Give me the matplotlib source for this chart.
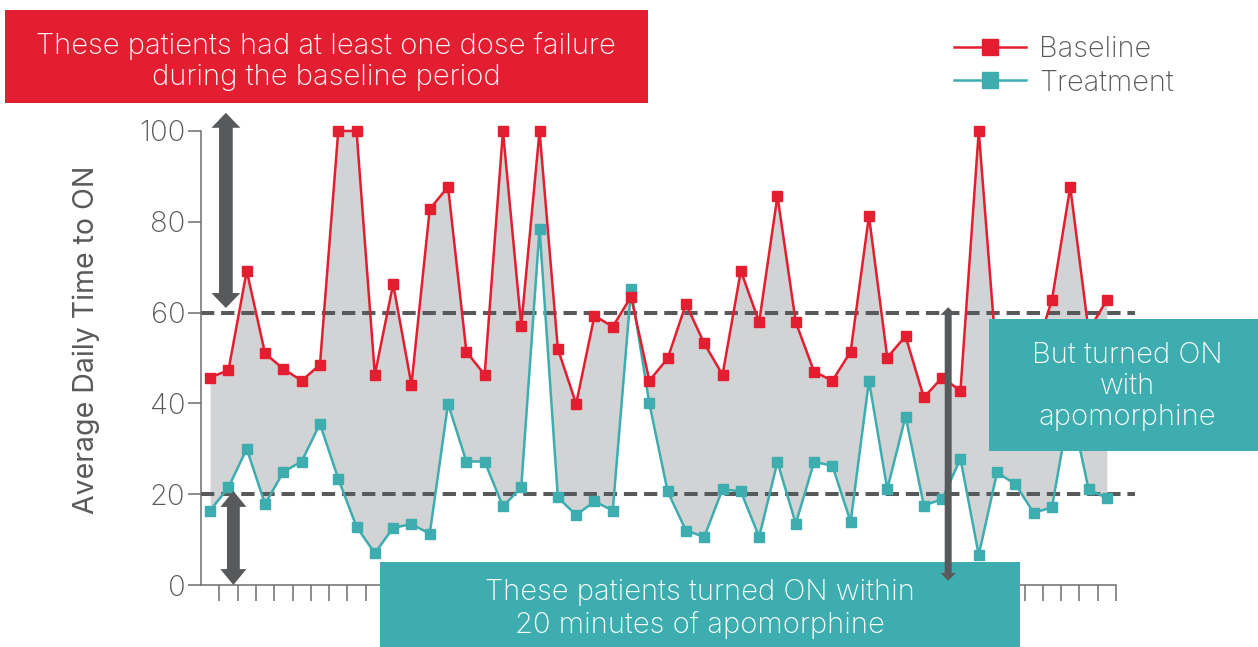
import matplotlib
matplotlib.use("Agg")
import matplotlib.pyplot as plt
from matplotlib.patches import Rectangle, Polygon
import numpy as np

plt.rcParams["font.family"] = ["Inter", "DejaVu Sans"]
plt.rcParams["font.weight"] = "light"

# 数据：每位患者的平均每日起效时间
baseline = [45.7, 47.3, 69.2, 51.0, 47.6, 45.0, 48.5, 100, 100, 46.3,
            66.3, 44.1, 82.8, 87.7, 51.4, 46.3, 100, 57.1, 100, 52.0,
            39.9, 59.3, 56.9, 63.5, 45.0, 49.9, 61.9, 53.2, 46.3, 69.2,
            57.9, 85.7, 57.9, 47.0, 45.0, 51.4, 81.3, 50.1, 54.8, 41.3,
            45.7, 42.8, 100, 48.5, 52.0, 50.0, 62.8, 87.7, 56.0, 62.8]
treatment = [16.4, 21.5, 30.0, 17.8, 24.9, 27.2, 35.5, 23.4, 12.8, 7.0,
             12.6, 13.4, 11.3, 39.9, 27.2, 27.2, 17.3, 21.5, 78.5, 19.3,
             15.4, 18.4, 16.4, 65.1, 40.0, 20.6, 12.0, 10.6, 21.1, 20.6,
             10.6, 27.1, 13.5, 27.1, 26.3, 13.9, 45.0, 21.1, 37.1, 17.5,
             18.9, 27.8, 6.6, 24.8, 22.2, 15.9, 17.1, 40.0, 21.1, 19.1]
y_ticks = [0, 20, 40, 60, 80, 100]
thresholds = [20, 60]

RED = "#e31e30"
TEAL = "#3dadb0"
FILL = "#d1d3d4"
DARK = "#58595b"
AXIS = "#6d6e71"

W, H = 1258, 647
fig = plt.figure(figsize=(W / 100, H / 100), dpi=100)
ax = fig.add_axes([201 / W, (H - 585) / H, 934 / W, 472.2 / H])

x = np.arange(len(baseline))
n = len(baseline)

# 灰色填充
ax.fill_between(x, baseline, treatment, color=FILL, lw=0, zorder=1)

# 阈值虚线
for t in thresholds:
    ax.axhline(t, color=DARK, lw=2.9, dashes=[3.3, 1.7], zorder=2)

# 两条折线
l_tr, = ax.plot(x, treatment, color=TEAL, lw=1.8, marker="s", ms=7.2, zorder=3, label="Treatment")
l_bl, = ax.plot(x, baseline, color=RED, lw=1.8, marker="s", ms=7.2, zorder=4, label="Baseline")

# 坐标轴
ax.set_xlim(-0.5, -0.5 + 934 / 18.3)
ax.set_ylim(0, 104)
for s in ["top", "right"]:
    ax.spines[s].set_visible(False)
ax.spines["left"].set_bounds(0, 100)
ax.spines["bottom"].set_bounds(-0.5, n - 0.5)
for s in ["left", "bottom"]:
    ax.spines[s].set_color(AXIS)
    ax.spines[s].set_linewidth(1.1)
ax.set_yticks(y_ticks)
ax.set_xticks([])
ax.set_xticks(np.arange(0.5, n, 1.0), minor=True)
ax.tick_params(axis="x", which="minor", direction="out", length=11.5, width=1.1, color=AXIS)
ax.tick_params(axis="y", direction="out", length=9.4, width=1.1, color=AXIS,
               labelsize=21, labelcolor=DARK, pad=2)
ax.set_ylabel("Average Daily Time to ON", fontsize=20.5, color=DARK)
ax.yaxis.set_label_coords(-101 / 934, (585 - 340) / 472.2)
ax.patch.set_alpha(0)

# 双向箭头（一个多边形）
def double_arrow(xc, y0, y1, width, head_w, head_l, z=8):
    hw, sw = head_w / 2, width / 2
    pts = [(xc, y0), (xc + hw, y0 + head_l), (xc + sw, y0 + head_l),
           (xc + sw, y1 - head_l), (xc + hw, y1 - head_l), (xc, y1),
           (xc - hw, y1 - head_l), (xc - sw, y1 - head_l),
           (xc - sw, y0 + head_l), (xc - hw, y0 + head_l)]
    ax.add_patch(Polygon(pts, closed=True, color=DARK, lw=0, zorder=z, clip_on=False))

double_arrow(0.86, 61, 104, 0.75, 1.58, 3.3)
double_arrow(1.27, 0, 20.7, 0.7, 1.42, 3.5)
double_arrow(40.33, 0.95, 61.2, 0.38, 0.84, 1.7)

# 注释框
def box(x0, y0, x1, y1, color, lines, cx, cy):
    ax.add_patch(Rectangle((x0 / W, 1 - y1 / H), (x1 - x0) / W, (y1 - y0) / H,
                           transform=fig.transFigure, color=color, lw=0, zorder=6, clip_on=False))
    ax.text(cx / W, 1 - cy / H, lines, transform=fig.transFigure, ha="center", va="center",
            color="white", fontsize=21, linespacing=1.2, zorder=7)

box(5, 10, 648, 103, RED, "These patients had at least one dose failure\nduring the baseline period", 326, 61.5)
box(380, 562, 1020, 650, TEAL, "These patients turned ON within\n20 minutes of apomorphine", 700, 609)
box(989, 319, 1260, 451, TEAL, "But turned ON\nwith\napomorphine", 1127, 386)

# 图例
ax.legend([l_bl, l_tr], ["Baseline", "Treatment"], loc="upper left",
          bbox_to_anchor=(954 / W, 1 - 36 / H), bbox_transform=fig.transFigure,
          frameon=False, fontsize=20.8, handlelength=2.5, handletextpad=0.45,
          labelspacing=0.22, borderpad=0, borderaxespad=0, markerscale=1.6, labelcolor=DARK)

fig.savefig("out.png", dpi=100)
plt.close(fig)
